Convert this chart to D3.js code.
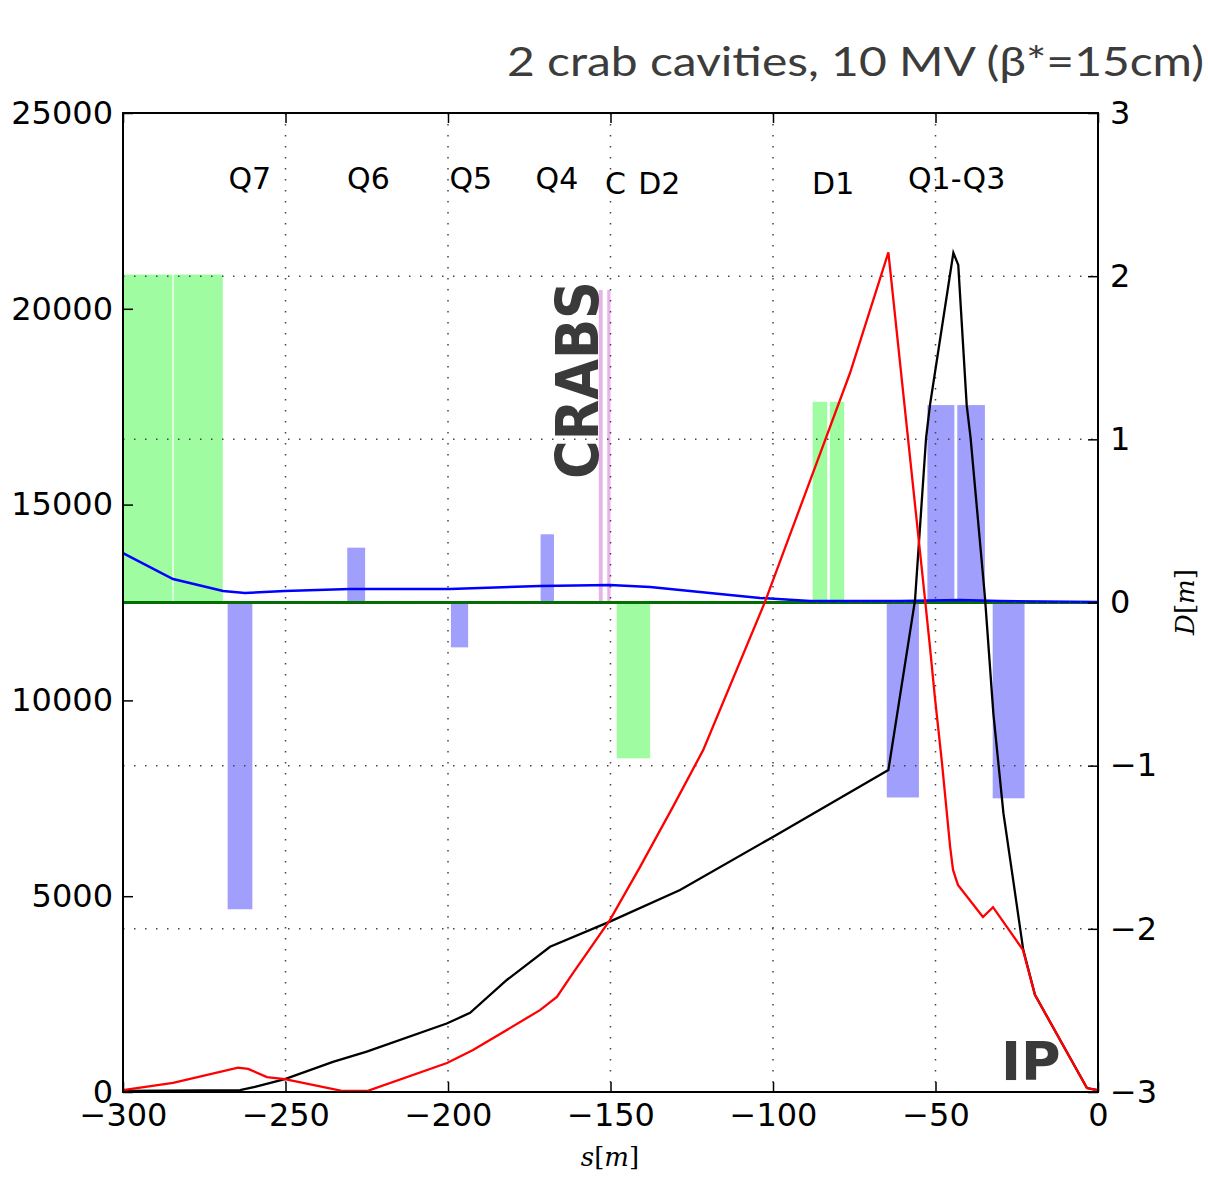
<!DOCTYPE html>
<html>
<head>
<meta charset="utf-8">
<script src="https://cdn.jsdelivr.net/npm/d3@7"></script>
<style>
  body { margin: 0; background: #fff; }
  .tick text { font-family: "DejaVu Sans"; font-size: 32px; fill: #000; }
  .tick line { stroke: #000; stroke-width: 1.5; }
  .lbl { font-family: "DejaVu Sans"; }
</style>
</head>
<body>
<div id="chart"></div>
<script>
// beta functions (left axis), s in metres
var betaXS = [-300, -284.6, -264.6, -261.5, -255.7, -250.2, -232.3, -224.9, -200.3, -192.3, -171.7, -166.5, -161.5, -150.2, -140.9, -130.8, -121.5, -102.5, -87.7, -76.3, -64.5,
  -53.2, -51.7, -50.2, -48.0, -45.5, -44.6, -43.1, -35.4, -32.3, -23.1, -19.4, -3.4, -0.3, 0];
var betaXV = [50, 230, 620, 590, 380, 330, 25, 25, 740, 1070, 2090, 2430, 3040, 4390, 5750, 7280, 8730, 12510, 15810, 18360, 21440,
  12560, 11360, 10090, 8400, 6260, 5670, 5290, 4470, 4720, 3630, 2480, 100, 50, 0];

var betaYS = [-300, -264, -259.4, -250.2, -235.4, -225, -200.4, -193.2, -181.9, -168.6, -150.2, -128.6, -99.9, -64.5,
  -56.3, -52.9, -51.7, -44.5, -43.0, -40.4, -39.2, -34.8, -32.2, -29.1, -26.1, -23.0, -19.4, -3.4, -0.3, 0];
var betaYV = [25, 50, 130, 330, 770, 1030, 1750, 2020, 2860, 3710, 4350, 5160, 6520, 8220,
  12560, 16700, 17540, 21430, 21120, 17540, 16700, 12650, 9670, 7120, 5410, 3630, 2480, 100, 50, 0];

// dispersion (right axis)
var dispS = [-300, -284.6, -269.2, -262.5, -250.2, -230.2, -199.4, -171.7, -150.2, -137.8, -122.5, -104.0, -88.6, -60.9, -42.5, -30.2, 0];
var dispV = [0.303, 0.144, 0.070, 0.058, 0.070, 0.083, 0.083, 0.101, 0.107, 0.095, 0.064, 0.028, 0.009, 0.009, 0.015, 0.009, 0.003];
var dispYS = [-300, 0];
var dispYV = [0, 0];

// magnet layout (right axis units)
var magnetStart = [-300, -284.4, -267.8, -231.0, -199.1, -171.5, -148.1, -87.8, -82.5, -65.0, -52.5, -43.3, -32.4];
var magnetEnd = [-284.8, -269.3, -260.2, -225.5, -193.8, -167.4, -137.8, -83.3, -78.1, -55.1, -44.2, -34.8, -22.6];
var magnetStrength = [2.01, 2.01, -1.88, 0.336, -0.275, 0.418, -0.955, 1.23, 1.23, -1.195, 1.21, 1.21, -1.2];
var magnetType = ["dip", "dip", "quad", "quad", "quad", "quad", "dip", "dip", "dip", "quad", "quad", "quad", "quad"];

var crabStart = [-153.6, -151.0];
var crabEnd = [-152.4, -150.0];
var crabHeight = [1.915, 1.915];

var elementNames = ["Q7", "Q6", "Q5", "Q4", "C", "D2", "D1", "Q1-Q3"];
var elementPos = [-261, -224.5, -193, -166.5, -148.5, -135, -81.5, -43.5];
var elementRow = [0, 0, 0, 0, 1, 1, 1, 0];

var xTicks = [-300, -250, -200, -150, -100, -50, 0];
var leftTicks = [0, 5000, 10000, 15000, 20000, 25000];
var rightTicks = [-3, -2, -1, 0, 1, 2, 3];

var svgWidth = 1208;
var svgHeight = 1177;
var plot = { left: 123, right: 1098, top: 113, bottom: 1092 };

var svg = d3.select("#chart")
  .append("svg")
  .attr("width", svgWidth)
  .attr("height", svgHeight);

var x = d3.scaleLinear().domain([-300, 0]).range([plot.left, plot.right]);
var yL = d3.scaleLinear().domain([0, 25000]).range([plot.bottom, plot.top]);
var yR = d3.scaleLinear().domain([-3, 3]).range([plot.bottom, plot.top]);

var colors = { dip: "#a0fca0", quad: "#a0a0fc" };

// magnets
var magnets = magnetStart.map(function(s, i) {
  return { s0: s, s1: magnetEnd[i], k: magnetStrength[i], type: magnetType[i] };
});
svg.append("g").selectAll("rect")
  .data(magnets)
  .enter()
  .append("rect")
  .attr("x", function(d) { return x(d.s0); })
  .attr("width", function(d) { return x(d.s1) - x(d.s0); })
  .attr("y", function(d) { return yR(Math.max(d.k, 0)); })
  .attr("height", function(d) { return Math.abs(yR(d.k) - yR(0)); })
  .attr("fill", function(d) { return colors[d.type]; });

// crab cavities
svg.append("g").selectAll("rect")
  .data(crabStart)
  .enter()
  .append("rect")
  .attr("x", function(d) { return x(d); })
  .attr("width", function(d, i) { return x(crabEnd[i]) - x(d); })
  .attr("y", function(d, i) { return yR(crabHeight[i]); })
  .attr("height", function(d, i) { return yR(0) - yR(crabHeight[i]); })
  .attr("fill", "#e8b4e8");

var line = function(ys) {
  return d3.line().x(function(d) { return x(d[0]); }).y(function(d) { return ys(d[1]); });
};
function zip(a, b) { return a.map(function(v, i) { return [v, b[i]]; }); }

svg.append("path")
  .attr("d", line(yR)(zip(dispYS, dispYV)))
  .attr("fill", "none").attr("stroke", "#007000").attr("stroke-width", 3);

svg.append("path")
  .attr("d", line(yR)(zip(dispS, dispV)))
  .attr("fill", "none").attr("stroke", "#0000ff").attr("stroke-width", 2.5);

// grid
var grid = svg.append("g")
  .attr("stroke", "#444").attr("stroke-width", 1.5).attr("stroke-dasharray", "1.5,9.5");
grid.selectAll(".vg")
  .data(xTicks.slice(1, -1))
  .enter()
  .append("line")
  .attr("x1", function(d) { return x(d); }).attr("x2", function(d) { return x(d); })
  .attr("y1", plot.top).attr("y2", plot.bottom);
grid.selectAll(".hg")
  .data(rightTicks.slice(1, -1))
  .enter()
  .append("line")
  .attr("y1", function(d) { return yR(d); }).attr("y2", function(d) { return yR(d); })
  .attr("x1", plot.left).attr("x2", plot.right);

svg.append("path")
  .attr("d", line(yL)(zip(betaYS, betaYV)))
  .attr("fill", "none").attr("stroke", "#000").attr("stroke-width", 2.3);

svg.append("path")
  .attr("d", line(yL)(zip(betaXS, betaXV)))
  .attr("fill", "none").attr("stroke", "#ff0000").attr("stroke-width", 2.3);

// axes
var fmt = d3.format("d");
svg.append("g")
  .attr("transform", "translate(0," + plot.bottom + ")")
  .call(d3.axisBottom(x).tickValues(xTicks).tickFormat(fmt).tickSize(-10).tickSizeOuter(0).tickPadding(11));
svg.append("g")
  .attr("transform", "translate(0," + plot.top + ")")
  .call(d3.axisTop(x).tickValues(xTicks).tickSize(-10).tickSizeOuter(0).tickFormat(""));
svg.append("g")
  .attr("transform", "translate(" + plot.left + ",0)")
  .call(d3.axisLeft(yL).tickValues(leftTicks).tickFormat(fmt).tickSize(-10).tickSizeOuter(0).tickPadding(10));
svg.append("g")
  .attr("transform", "translate(" + plot.right + ",0)")
  .call(d3.axisRight(yR).tickValues(rightTicks).tickFormat(fmt).tickSize(-10).tickSizeOuter(0).tickPadding(12));
svg.selectAll(".domain").remove();
svg.selectAll(".tick text").attr("font-family", null);

svg.append("rect")
  .attr("x", plot.left).attr("y", plot.top)
  .attr("width", plot.right - plot.left).attr("height", plot.bottom - plot.top)
  .attr("fill", "none").attr("stroke", "#000").attr("stroke-width", 2);

// element names
svg.append("g").selectAll("text")
  .data(elementNames)
  .enter()
  .append("text")
  .attr("class", "lbl")
  .attr("x", function(d, i) { return x(elementPos[i]); })
  .attr("y", function(d, i) { return elementRow[i] ? 194 : 189; })
  .attr("text-anchor", "middle")
  .style("font-size", "30px")
  .text(function(d) { return d; });

svg.append("text")
  .attr("class", "lbl")
  .attr("transform", "translate(598,380) rotate(-90)")
  .attr("text-anchor", "middle")
  .attr("textLength", 198).attr("lengthAdjust", "spacingAndGlyphs")
  .style("font-weight", "bold")
  .style("font-size", "58px").style("fill", "#3a3a3a")
  .text("CRABS");

svg.append("text")
  .attr("class", "lbl")
  .attr("x", 1001).attr("y", 1080)
  .style("font-weight", "bold")
  .style("font-size", "54px").style("fill", "#3a3a3a")
  .text("IP");

// title
svg.append("text")
  .attr("x", 507).attr("y", 76)
  .attr("textLength", 697).attr("lengthAdjust", "spacingAndGlyphs")
  .style("font-family", "Lato, sans-serif").style("font-weight", 400)
  .style("font-size", "40px").style("fill", "#3c3c3c")
  .text("2 crab cavities, 10 MV (β*=15cm)");

// axis labels
var xl = svg.append("text")
  .attr("x", 610).attr("y", 1166)
  .attr("text-anchor", "middle")
  .style("font-family", "DejaVu Serif").style("font-size", "26px");
xl.append("tspan").style("font-style", "italic").text("s");
xl.append("tspan").text("[");
xl.append("tspan").style("font-style", "italic").text("m");
xl.append("tspan").text("]");

var yl = svg.append("text")
  .attr("transform", "translate(1194,602) rotate(-90)")
  .attr("text-anchor", "middle")
  .style("font-family", "DejaVu Serif").style("font-size", "26px");
yl.append("tspan").style("font-style", "italic").text("D");
yl.append("tspan").text("[");
yl.append("tspan").style("font-style", "italic").text("m");
yl.append("tspan").text("]");
</script>
</body>
</html>
